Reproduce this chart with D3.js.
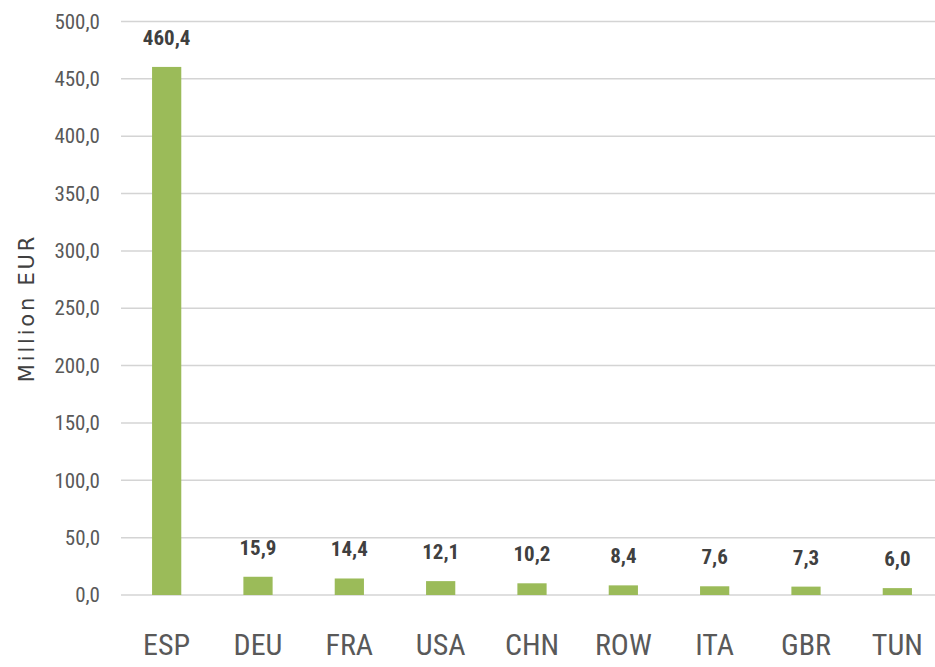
<!DOCTYPE html>
<html>
<head>
<meta charset="utf-8">
<script src="https://cdn.jsdelivr.net/npm/d3@7"></script>
<style>
  html, body { margin: 0; padding: 0; background: #fff; }
  svg { display: block; }
</style>
</head>
<body>
<svg id="chart" width="935" height="667"></svg>
<script>
// Export values by destination, million EUR
const countries = ["ESP", "DEU", "FRA", "USA", "CHN", "ROW", "ITA", "GBR", "TUN"];
const values = [460.4, 15.9, 14.4, 12.1, 10.2, 8.4, 7.6, 7.3, 6.0];
const yTicks = [0, 50, 100, 150, 200, 250, 300, 350, 400, 450, 500];

const svg = d3.select("#chart");
const narrow = "'Liberation Sans Narrow', 'Roboto Condensed', 'DejaVu Sans Condensed', sans-serif";

const x = d3.scaleBand().domain(countries).range([121, 943]).paddingInner(0.68).paddingOuter(0.34);
const y = d3.scaleLinear().domain([0, 500]).range([595, 21.5]);
const fmt = v => d3.format(".1f")(v).replace(".", ",");

// Horizontal gridlines
svg.append("g")
  .selectAll("line")
  .data(yTicks)
  .join("line")
  .attr("x1", 121).attr("x2", 935)
  .attr("y1", d => y(d)).attr("y2", d => y(d))
  .attr("stroke", "#d4d4d4").attr("stroke-width", 1.5);

// Y axis tick labels
const yAxis = d3.axisLeft(y).tickValues(yTicks).tickFormat(fmt).tickSize(0).tickPadding(0);
const gy = svg.append("g").attr("transform", "translate(100,0)").call(yAxis);
gy.select(".domain").remove();
gy.selectAll("text")
  .attr("font-family", narrow)
  .attr("font-size", 21)
  .attr("fill", "#595959");

// Bars
svg.append("g")
  .selectAll("rect")
  .data(countries)
  .join("rect")
  .attr("x", d => x(d))
  .attr("width", x.bandwidth())
  .attr("y", (d, i) => y(values[i]))
  .attr("height", (d, i) => y(0) - y(values[i]))
  .attr("fill", "#9bbb59");

// Value labels above bars
svg.append("g")
  .selectAll("text")
  .data(countries)
  .join("text")
  .attr("x", d => x(d) + x.bandwidth() / 2)
  .attr("y", (d, i) => y(values[i]) - 22)
  .attr("text-anchor", "middle")
  .attr("font-family", narrow)
  .attr("font-weight", "bold")
  .attr("font-size", 21)
  .attr("fill", "#404040")
  .text((d, i) => fmt(values[i]));

// X axis category labels
const xAxis = d3.axisBottom(x).tickSize(0).tickPadding(0);
const gx = svg.append("g").attr("transform", "translate(0,634)").call(xAxis);
gx.select(".domain").remove();
gx.selectAll("text")
  .attr("font-family", narrow)
  .attr("font-size", 30)
  .attr("fill", "#595959");

// Y axis title
svg.append("text")
  .attr("transform", "translate(34,308) rotate(-90)")
  .attr("text-anchor", "middle")
  .attr("font-family", "'DejaVu Sans', sans-serif")
  .attr("font-size", 21)
  .attr("letter-spacing", 2.8)
  .attr("fill", "#404040")
  .text("Million EUR");
</script>
</body>
</html>
